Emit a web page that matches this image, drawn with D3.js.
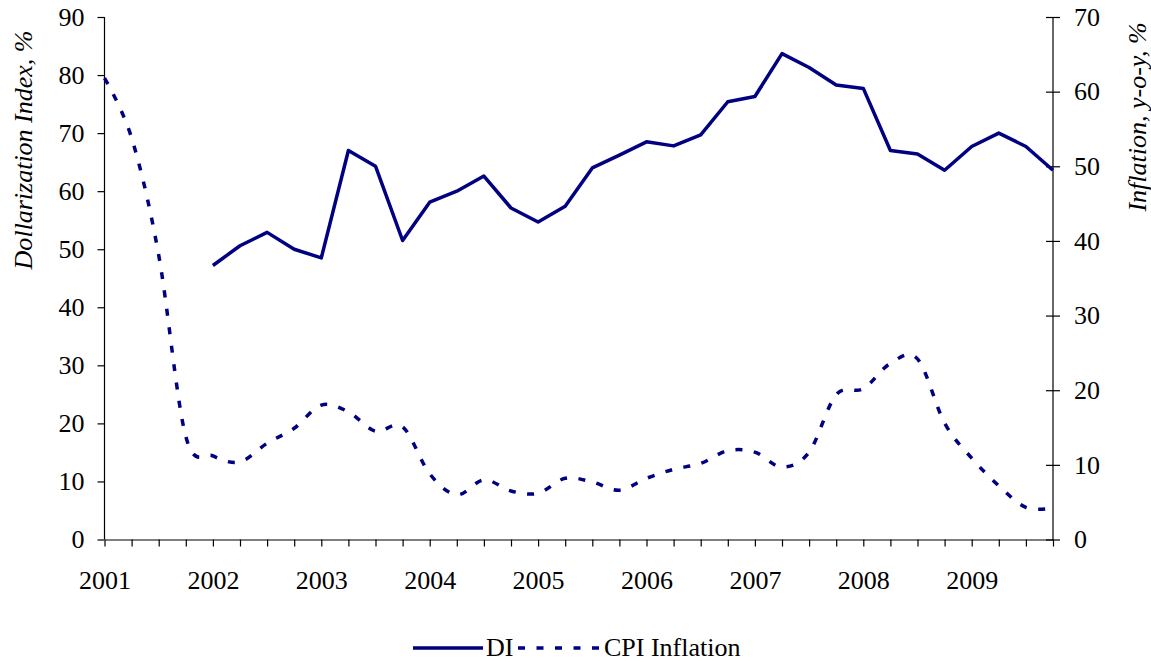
<!DOCTYPE html>
<html>
<head>
<meta charset="utf-8">
<script src="https://cdn.jsdelivr.net/npm/d3@7"></script>
<style>
  body { margin: 0; background: #fff; }
  text { font-family: "Liberation Serif", "Times New Roman", serif; fill: #000; }
</style>
</head>
<body>
<div id="chart"></div>
<script>
// quarterly categories, 2001Q1 .. 2009Q4
let quarters = [
  "2001", "", "", "",
  "2002", "", "", "",
  "2003", "", "", "",
  "2004", "", "", "",
  "2005", "", "", "",
  "2006", "", "", "",
  "2007", "", "", "",
  "2008", "", "", "",
  "2009", "", "", ""
];

// Dollarization Index, % (left axis) - starts 2002Q1
let diValues = [
  null, null, null, null,
  47.2, 50.6, 52.9, 50.0,
  48.5, 67.0, 64.3, 51.5,
  58.1, 60.0, 62.6, 57.1,
  54.7, 57.4, 64.0, 66.2,
  68.5, 67.8, 69.7, 75.4,
  76.3, 83.7, 81.3, 78.3,
  77.7, 67.0, 66.4, 63.6,
  67.7, 70.0, 67.7, 63.6
];

// CPI inflation, y-o-y % (right axis)
let cpiValues = [
  61.8, 53.8, 38.1, 13.8,
  11.2, 10.4, 12.9, 14.9,
  18.0, 17.1, 14.5, 15.1,
  8.8, 6.0, 8.0, 6.5,
  6.2, 8.2, 7.7, 6.6,
  8.2, 9.4, 10.2, 11.9,
  11.7, 9.7, 11.7, 19.4,
  20.2, 23.6, 24.2, 15.6,
  10.9, 7.2, 4.3, 4.2
];

let leftTicks = [0, 10, 20, 30, 40, 50, 60, 70, 80, 90];
let rightTicks = [0, 10, 20, 30, 40, 50, 60, 70];

let seriesNames = ["DI", "CPI Inflation"];

let svgWidth = 1151;
let svgHeight = 662;
let navy = "#000080";

let svg = d3.select("#chart")
  .append("svg")
  .attr("width", svgWidth)
  .attr("height", svgHeight);

let xScale = d3.scaleLinear()
  .domain([0, quarters.length - 1])
  .range([104.5, 1053]);

let yLeft = d3.scaleLinear()
  .domain([0, 90])
  .range([539.5, 17]);

let yRight = d3.scaleLinear()
  .domain([0, 70])
  .range([539.5, 17]);

// left axis
let leftAxis = svg.append("g")
  .attr("transform", `translate(${xScale(0)},0)`)
  .call(d3.axisLeft(yLeft).tickValues(leftTicks).tickSize(7).tickPadding(13));

// right axis, ticks cross the line
let rightAxis = svg.append("g")
  .attr("transform", `translate(${xScale(quarters.length - 1)},0)`)
  .call(d3.axisRight(yRight).tickValues(rightTicks).tickSize(7).tickPadding(14));
rightAxis.selectAll(".tick line").attr("x1", -7).attr("x2", 7);

// bottom axis, a tick every quarter, year labels on Q1
let bottomAxis = svg.append("g")
  .attr("transform", `translate(0,${yLeft(0)})`)
  .call(d3.axisBottom(xScale)
    .tickValues(d3.range(quarters.length))
    .tickFormat(i => quarters[i])
    .tickSize(7)
    .tickSizeOuter(0)
    .tickPadding(24));

[leftAxis, rightAxis, bottomAxis].forEach(function(ax) {
  ax.select(".domain").attr("stroke", "#000").attr("stroke-width", 1.2);
  ax.selectAll(".tick line").attr("stroke", "#000").attr("stroke-width", 1.2);
  ax.selectAll(".tick text")
    .attr("font-size", "26px")
    .attr("font-family", "Liberation Serif, Times New Roman, serif")
    .attr("fill", "#000");
});
leftAxis.select(".domain").attr("d", `M0,${yLeft(0)}V${yLeft(90)}`);
rightAxis.select(".domain").attr("d", `M0,${yRight(0)}V${yRight(70)}`);

// DI line
let diLine = d3.line()
  .defined(d => d != null)
  .x((d, i) => xScale(i))
  .y(d => yLeft(d));

svg.append("path")
  .datum(diValues)
  .attr("d", diLine)
  .attr("fill", "none")
  .attr("stroke", navy)
  .attr("stroke-width", 3.5)
  .attr("stroke-linejoin", "round");

// CPI line, smoothed and dashed
let cpiLine = d3.line()
  .x((d, i) => xScale(i))
  .y(d => yRight(d))
  .curve(d3.curveCardinal);

svg.append("path")
  .datum(cpiValues)
  .attr("d", cpiLine)
  .attr("fill", "none")
  .attr("stroke", navy)
  .attr("stroke-width", 3.5)
  .attr("stroke-dasharray", "7,11.5");

// axis titles
svg.append("text")
  .attr("transform", "translate(32,150) rotate(-90)")
  .attr("text-anchor", "middle")
  .attr("font-size", "26px")
  .attr("font-style", "italic")
  .text("Dollarization Index, %");

svg.append("text")
  .attr("transform", "translate(1146,117) rotate(-90)")
  .attr("text-anchor", "middle")
  .attr("font-size", "26px")
  .attr("font-style", "italic")
  .text("Inflation, y-o-y, %");

// legend
let legend = svg.append("g");

legend.append("line")
  .attr("x1", 413).attr("x2", 483)
  .attr("y1", 648).attr("y2", 648)
  .attr("stroke", navy)
  .attr("stroke-width", 3.5);

legend.append("text")
  .attr("x", 486).attr("y", 656)
  .attr("font-size", "26px")
  .text(seriesNames[0]);

legend.append("line")
  .attr("x1", 518).attr("x2", 600)
  .attr("y1", 648).attr("y2", 648)
  .attr("stroke", navy)
  .attr("stroke-width", 3.5)
  .attr("stroke-dasharray", "7,11.5");

legend.append("text")
  .attr("x", 604).attr("y", 656)
  .attr("font-size", "26px")
  .text(seriesNames[1]);
</script>
</body>
</html>
